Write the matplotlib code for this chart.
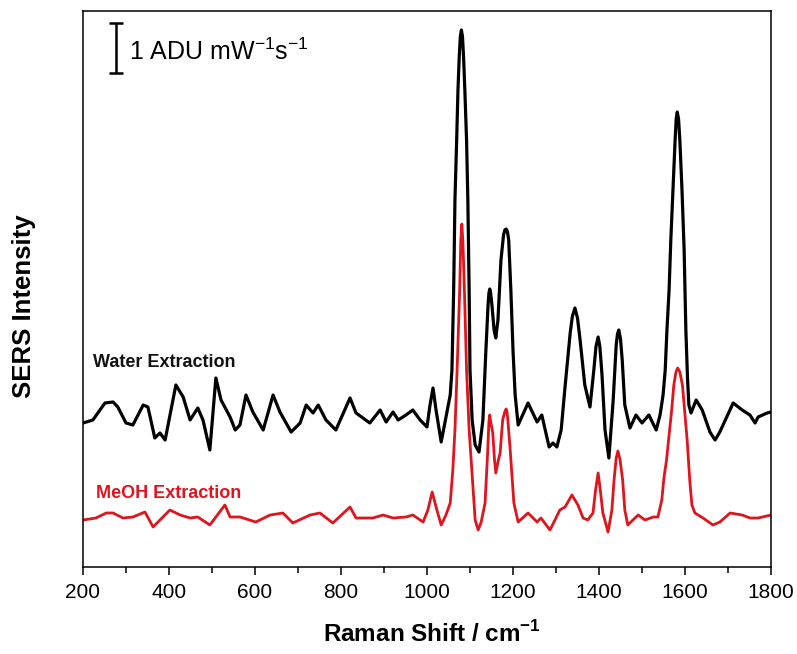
import matplotlib
matplotlib.use('Agg')
import matplotlib.pyplot as plt
from matplotlib.ticker import MultipleLocator

plt.rcParams['font.family'] = ['Liberation Sans', 'DejaVu Sans']
plt.rcParams['mathtext.fontset'] = 'custom'
plt.rcParams['mathtext.rm'] = 'Liberation Sans'
plt.rcParams['mathtext.bf'] = 'Liberation Sans:bold'

# water extraction spectrum (offset), in ADU mW^-1 s^-1
water_x = [200, 223, 251, 270, 281, 300, 316, 340, 351, 367, 379, 391, 416, 433, 449,
           467, 479, 495, 509, 521, 542, 554, 565, 579, 595, 619, 642, 658, 684, 705,
           719, 735, 747, 765, 788, 821, 835, 867, 891, 905, 921, 933, 951, 967, 984,
           1000, 1007, 1014, 1021, 1033, 1046, 1054, 1058, 1062, 1065, 1069, 1072, 1075,
           1077.5, 1080, 1082.5, 1085, 1088, 1092, 1095, 1098, 1100, 1105, 1112, 1121,
           1130, 1137, 1142, 1144, 1146, 1148, 1151, 1156, 1160, 1165, 1172, 1178, 1181,
           1184, 1187, 1190, 1195, 1200, 1205, 1212, 1235, 1256, 1267, 1284, 1293, 1302,
           1312, 1321, 1333, 1338, 1344, 1350, 1356, 1367, 1379, 1388, 1393, 1398, 1402,
           1407, 1414, 1423, 1433, 1440, 1443, 1446, 1450, 1454, 1460, 1472, 1486, 1500,
           1516, 1533, 1542, 1549, 1554, 1558, 1563, 1567, 1572, 1577, 1579.5, 1582, 1585,
           1588, 1593, 1598, 1602, 1606, 1609, 1614, 1626, 1640, 1658, 1670, 1681, 1712,
           1733, 1751, 1763, 1770, 1791, 1800]
water_y = [3.02, 3.08, 3.42, 3.44, 3.34, 3.02, 2.98, 3.38, 3.34, 2.72, 2.82, 2.68, 3.78,
           3.54, 3.08, 3.32, 3.08, 2.48, 3.92, 3.48, 3.14, 2.88, 2.98, 3.58, 3.24, 2.88,
           3.58, 3.24, 2.84, 3.02, 3.38, 3.22, 3.38, 3.08, 2.88, 3.52, 3.22, 3.02, 3.28,
           3.04, 3.24, 3.08, 3.18, 3.28, 3.08, 2.94, 3.38, 3.72, 3.28, 2.64, 3.22, 3.58,
           4.08, 5.68, 7.48, 8.68, 9.68, 10.35, 10.75, 10.88, 10.75, 10.35, 9.68, 8.68,
           7.48, 5.68, 4.08, 3.08, 2.58, 2.44, 3.08, 4.48, 5.38, 5.62, 5.70, 5.62, 5.38,
           4.88, 4.72, 5.08, 6.28, 6.78, 6.88, 6.90, 6.85, 6.68, 5.68, 4.48, 3.58, 2.98,
           3.42, 3.04, 3.18, 2.54, 2.62, 2.54, 2.88, 3.74, 4.82, 5.15, 5.32, 5.12, 4.68,
           3.78, 3.34, 4.08, 4.55, 4.74, 4.55, 3.98, 2.88, 2.32, 3.48, 4.58, 4.80, 4.88,
           4.70, 4.28, 3.38, 2.92, 3.18, 3.02, 3.18, 2.88, 3.18, 3.58, 4.08, 4.88, 5.68,
           6.68, 7.68, 8.68, 9.10, 9.24, 9.10, 8.68, 7.68, 6.48, 4.88, 3.88, 3.38, 3.22,
           3.48, 3.28, 2.84, 2.68, 2.84, 3.42, 3.28, 3.18, 3.02, 3.14, 3.22, 3.24]

# methanol extraction spectrum
meoh_x = [200, 230, 254, 270, 293, 316, 344, 363, 379, 402, 426, 449, 467, 495, 530,
          542, 565, 602, 635, 665, 688, 728, 751, 781, 821, 835, 874, 898, 921, 951,
          967, 991, 1002, 1012, 1023, 1033, 1044, 1054, 1060, 1065, 1070, 1076, 1078.5,
          1081, 1083.5, 1087, 1092, 1098, 1105, 1112, 1119, 1126, 1135, 1141, 1144, 1146,
          1148, 1153, 1157, 1160, 1165, 1170, 1176, 1181, 1184, 1186, 1188, 1193, 1202,
          1212, 1235, 1256, 1265, 1286, 1309, 1321, 1337, 1351, 1363, 1374, 1386, 1392,
          1398, 1403, 1409, 1421, 1430, 1435, 1440, 1444, 1449, 1455, 1460, 1467, 1491,
          1507, 1526, 1537, 1546, 1551, 1557, 1563, 1569, 1574, 1579, 1583, 1588, 1594,
          1599, 1605, 1611, 1616, 1623, 1642, 1665, 1681, 1705, 1733, 1751, 1770, 1800]
meoh_y = [1.08, 1.12, 1.22, 1.22, 1.12, 1.14, 1.24, 0.94, 1.08, 1.28, 1.18, 1.12, 1.14,
          0.98, 1.38, 1.14, 1.14, 1.04, 1.18, 1.22, 1.02, 1.18, 1.22, 1.02, 1.34, 1.12,
          1.12, 1.18, 1.12, 1.14, 1.18, 1.04, 1.28, 1.64, 1.28, 0.98, 1.18, 1.42, 2.08,
          2.88, 4.08, 5.68, 6.65, 7.00, 6.65, 5.68, 4.08, 2.88, 1.98, 1.08, 0.88, 1.04,
          1.42, 2.42, 3.05, 3.18, 3.05, 2.82, 2.28, 2.02, 2.24, 2.42, 3.08, 3.25, 3.30,
          3.25, 3.08, 2.54, 1.42, 1.04, 1.22, 1.04, 1.12, 0.88, 1.28, 1.34, 1.58, 1.38,
          1.12, 1.08, 1.22, 1.68, 2.02, 1.68, 1.22, 0.84, 1.28, 1.88, 2.32, 2.46, 2.28,
          1.88, 1.28, 0.98, 1.18, 1.08, 1.14, 1.14, 1.48, 1.92, 2.28, 2.78, 3.28, 3.78,
          4.04, 4.12, 4.04, 3.78, 3.28, 2.68, 1.88, 1.38, 1.22, 1.12, 0.98, 1.04, 1.22,
          1.18, 1.12, 1.12, 1.18]

red = '#e0141c'

fig = plt.figure(figsize=(7.97, 6.54), dpi=100)
ax = fig.add_axes([83/797, 1 - 567/654, 688/797, 556/654])

ax.plot(water_x, water_y, color='black', lw=2.3, solid_joinstyle='round')
ax.plot(meoh_x, meoh_y, color=red, lw=2.0, solid_joinstyle='round')

ax.set_xlim(200, 1800)
ax.set_ylim(0.14, 11.26)

ax.xaxis.set_major_locator(MultipleLocator(200))
ax.xaxis.set_minor_locator(MultipleLocator(100))
ax.tick_params(axis='x', which='major', direction='out', length=5.8, width=1.1,
               labelsize=15, pad=6, top=False)
ax.tick_params(axis='x', which='minor', direction='out', length=4.3, width=1.1, top=False)
ax.tick_params(axis='y', left=False, labelleft=False)
for s in ax.spines.values():
    s.set_linewidth(1.1)

# scale bar: 1 ADU mW^-1 s^-1
ax.errorbar([277], [10.52], yerr=[0.5], color='black', lw=1.8, capsize=5, capthick=1.8)
ax.text(307, 10.28, r'1 ADU mW$^{-1}$s$^{-1}$', fontsize=18, va='baseline', ha='left')

ax.text(223, 4.14, 'Water Extraction', fontsize=13, fontweight='bold', color='#111111',
        va='baseline', ha='left')
ax.text(230, 1.52, 'MeOH Extraction', fontsize=13, fontweight='bold', color=red,
        va='baseline', ha='left')

fig.text(432/797, 1 - 642/654, r'Raman Shift / cm$^{\mathbf{-1}}$', fontsize=17.5,
         fontweight='bold', ha='center', va='baseline')
fig.text(24/797, 1 - 306/654, 'SERS Intensity', fontsize=18.5, fontweight='bold',
         rotation=90, ha='center', va='center')

fig.savefig('out.png', dpi=100)
